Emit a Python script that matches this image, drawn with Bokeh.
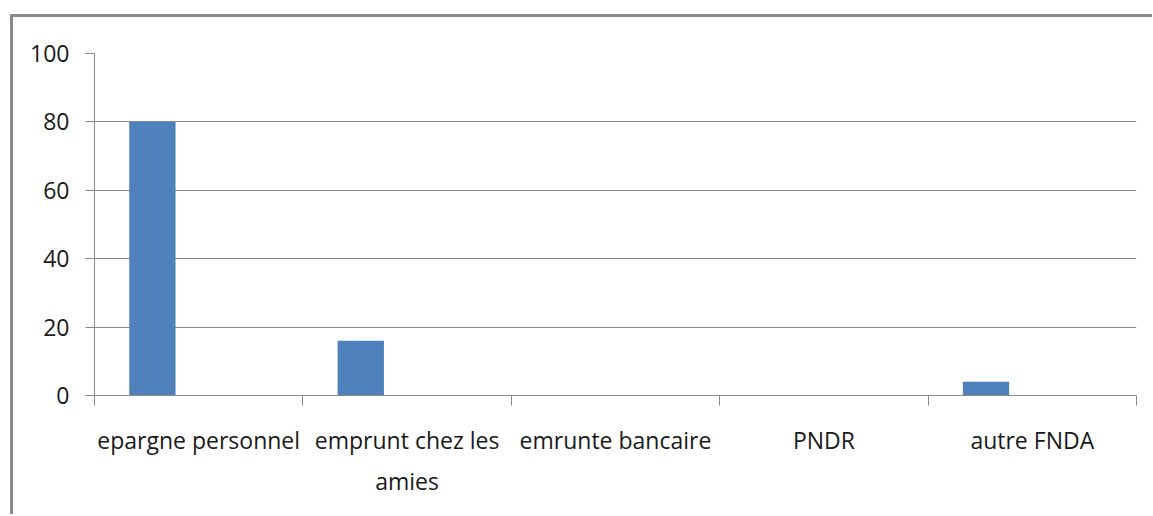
from bokeh.plotting import figure
from bokeh.models import (ColumnDataSource, FactorRange, Range1d, LinearAxis,
                          CategoricalAxis, FixedTicker)
from bokeh.transform import dodge
from bokeh.embed import file_html
from bokeh.resources import INLINE

categories = ["epargne personnel", "emprunt chez les\namies", "emrunte bancaire",
              "PNDR", "autre FNDA"]
values = [80, 16, 0, 0, 4]
y_ticks = [0, 20, 40, 60, 80, 100]

FONT = "Open Sans"
GRAY = "#8a8a8a"
BAR = "#4F81BD"
n_series = 3
gap = 1.5
bw = 1.0 / (n_series + gap)

src = ColumnDataSource(dict(cat=categories, val=values))

p = figure(x_range=FactorRange(*categories), y_range=Range1d(0, 100),
           frame_width=1042, frame_height=342,
           min_border_left=81, min_border_top=36, min_border_right=16, min_border_bottom=119,
           x_axis_location=None, output_backend="svg", toolbar_location=None,
           background_fill_color="white", border_fill_color="white")
p.outline_line_color = None
p.margin = (14, 0, 0, 10)
p.styles = {"border-top": "3px solid #8a8a8a", "border-left": "3px solid #8a8a8a"}

p.vbar(x=dodge("cat", -bw, range=p.x_range), top="val", width=bw, source=src,
       fill_color=BAR, line_color=None)

# y axis
ya = p.yaxis[0]
ya.ticker = FixedTicker(ticks=y_ticks)
ya.axis_line_color = GRAY
ya.major_tick_line_color = GRAY
ya.major_tick_out = 9
ya.major_tick_in = 0
ya.minor_tick_line_color = None
ya.major_label_text_font = FONT
ya.major_label_text_font_size = "23px"
ya.major_label_text_color = "#1a1a1a"
ya.major_label_standoff = 16

p.xgrid.visible = False
p.ygrid.ticker = FixedTicker(ticks=y_ticks)
p.ygrid.grid_line_color = GRAY
p.ygrid.grid_line_width = 1.2

# x axis: tick marks at category boundaries (synthetic coordinates 0..N)
edge_axis = LinearAxis(ticker=FixedTicker(ticks=list(range(len(categories) + 1))))
edge_axis.axis_line_color = GRAY
edge_axis.major_tick_line_color = GRAY
edge_axis.major_tick_out = 10
edge_axis.major_tick_in = 0
edge_axis.minor_tick_line_color = None
edge_axis.major_label_text_font_size = "0px"
edge_axis.major_label_standoff = 0
edge_axis.major_label_overrides = {i: "" for i in range(len(categories) + 1)}
p.add_layout(edge_axis, "below")

cat_axis = CategoricalAxis()
cat_axis.axis_line_color = None
cat_axis.major_tick_line_color = None
cat_axis.major_tick_out = 0
cat_axis.major_tick_in = 0
cat_axis.major_label_text_font = FONT
cat_axis.major_label_text_font_size = "23px"
cat_axis.major_label_text_color = "#1a1a1a"
cat_axis.major_label_text_line_height = 1.3
cat_axis.major_label_standoff = 18
p.add_layout(cat_axis, "below")

open("out.html", "w").write(file_html(p, INLINE))
